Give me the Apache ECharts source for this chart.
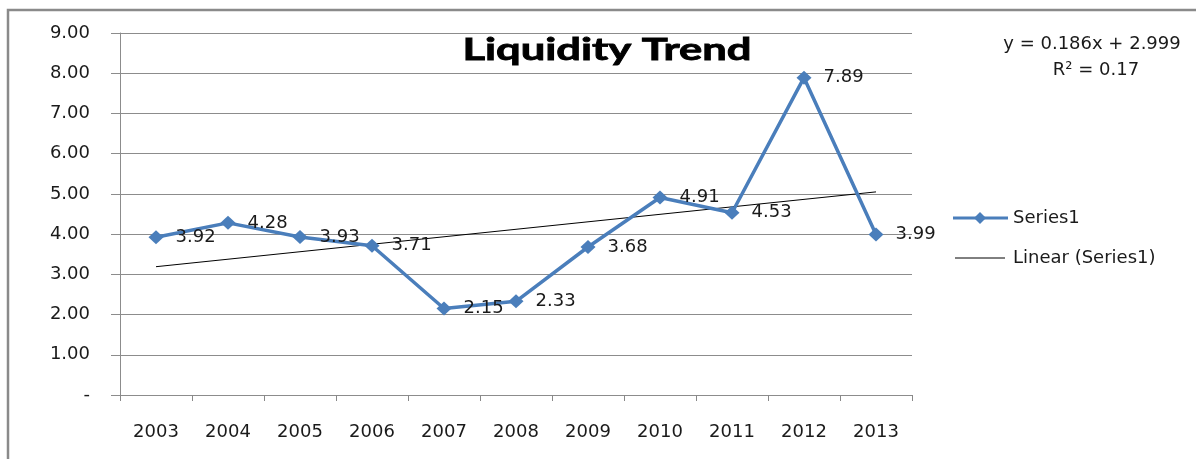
<!DOCTYPE html>
<html>
<head>
<meta charset="utf-8">
<script src="https://cdn.jsdelivr.net/npm/echarts@6/dist/echarts.min.js"></script>
<style>
  html, body { margin: 0; padding: 0; background: #fff; }
  #chart { width: 1196px; height: 459px; }
</style>
</head>
<body>
<div id="chart"></div>
<script>
var years = ['2003','2004','2005','2006','2007','2008','2009','2010','2011','2012','2013'];
var series1 = [3.92, 4.28, 3.93, 3.71, 2.15, 2.33, 3.68, 4.91, 4.53, 7.89, 3.99];
// trend line end points (y = 0.186x + 2.999)
var trendLine = [3.19, null, null, null, null, null, null, null, null, null, 5.05];
var yTicks = [0, 1, 2, 3, 4, 5, 6, 7, 8, 9];

var myChart = echarts.init(document.getElementById('chart'));

var txt = '#1a1a1a';

var option = {
  animation: false,
  textStyle: { fontFamily: 'DejaVu Sans' },
  grid: { left: 120, right: 284, top: 33, bottom: 64 },
  xAxis: {
    type: 'category',
    data: years,
    boundaryGap: true,
    axisLine: { show: false },
    axisTick: { show: true, length: 6, lineStyle: { color: '#888' }, interval: 0 },
    axisLabel: { interval: 0, margin: 28, fontSize: 18, color: txt }
  },
  yAxis: {
    type: 'value',
    min: yTicks[0],
    max: yTicks[yTicks.length - 1],
    interval: 1,
    axisLine: { show: true, lineStyle: { color: '#8c8c8c', width: 1 } },
    axisTick: { show: true, length: 9, lineStyle: { color: '#8c8c8c' } },
    splitLine: { show: true, lineStyle: { color: '#8c8c8c', width: 1 } },
    axisLabel: {
      margin: 30, fontSize: 18, color: txt,
      formatter: function (v) { return v === 0 ? '-' : v.toFixed(2); }
    }
  },
  series: [
    {
      name: 'Series1',
      type: 'line',
      data: series1,
      symbol: 'diamond',
      symbolSize: [15, 14],
      lineStyle: { color: '#4a7ebb', width: 3.5 },
      itemStyle: { color: '#4a7ebb' },
      label: {
        show: true,
        position: 'right',
        distance: 12,
        fontSize: 18,
        color: txt,
        formatter: function (p) { return p.value.toFixed(2); }
      },
      z: 3
    },
    {
      name: 'Linear (Series1)',
      type: 'line',
      data: trendLine,
      connectNulls: true,
      symbol: 'none',
      lineStyle: { color: '#000', width: 1 },
      z: 2
    }
  ],
  graphic: [
    // chart border (only left and top are visible in the crop)
    {
      type: 'rect',
      shape: { x: 8, y: 10, width: 1200, height: 470 },
      style: { fill: 'none', stroke: '#8a8a8a', lineWidth: 2.5 },
      silent: true
    },
    // title, stretched wide like the original
    {
      type: 'text',
      x: 607,
      y: 50,
      scaleX: 1.45,
      style: {
        text: 'Liquidity Trend',
        x: 0, y: 0,
        align: 'center',
        verticalAlign: 'middle',
        fontFamily: 'Lato',
        fontWeight: 'bold',
        fontSize: 30,
        fill: '#000',
        stroke: '#000',
        lineWidth: 0.8
      }
    },
    // trendline equation
    {
      type: 'text',
      x: 1092,
      y: 44,
      style: { text: 'y = 0.186x + 2.999', x: 0, y: 0, align: 'center', verticalAlign: 'middle',
               fontFamily: 'DejaVu Sans', fontSize: 18, fill: txt }
    },
    {
      type: 'text',
      x: 1096,
      y: 70,
      style: { text: 'R\u00b2 = 0.17', x: 0, y: 0, align: 'center', verticalAlign: 'middle',
               fontFamily: 'DejaVu Sans', fontSize: 18, fill: txt }
    },
    // legend
    {
      type: 'line',
      shape: { x1: 953, y1: 218, x2: 1008, y2: 218 },
      style: { stroke: '#4a7ebb', lineWidth: 3 }
    },
    {
      type: 'polygon',
      shape: { points: [[980, 212], [986, 218], [980, 224], [974, 218]] },
      style: { fill: '#4a7ebb' }
    },
    {
      type: 'text',
      x: 1013,
      y: 218,
      style: { text: 'Series1', x: 0, y: 0, verticalAlign: 'middle',
               fontFamily: 'DejaVu Sans', fontSize: 18, fill: txt }
    },
    {
      type: 'line',
      shape: { x1: 955, y1: 258, x2: 1005, y2: 258 },
      style: { stroke: '#000', lineWidth: 1 }
    },
    {
      type: 'text',
      x: 1013,
      y: 258,
      style: { text: 'Linear (Series1)', x: 0, y: 0, verticalAlign: 'middle',
               fontFamily: 'DejaVu Sans', fontSize: 18, fill: txt }
    }
  ]
};

myChart.setOption(option);
window.onresize = myChart.resize;
</script>
</body>
</html>
